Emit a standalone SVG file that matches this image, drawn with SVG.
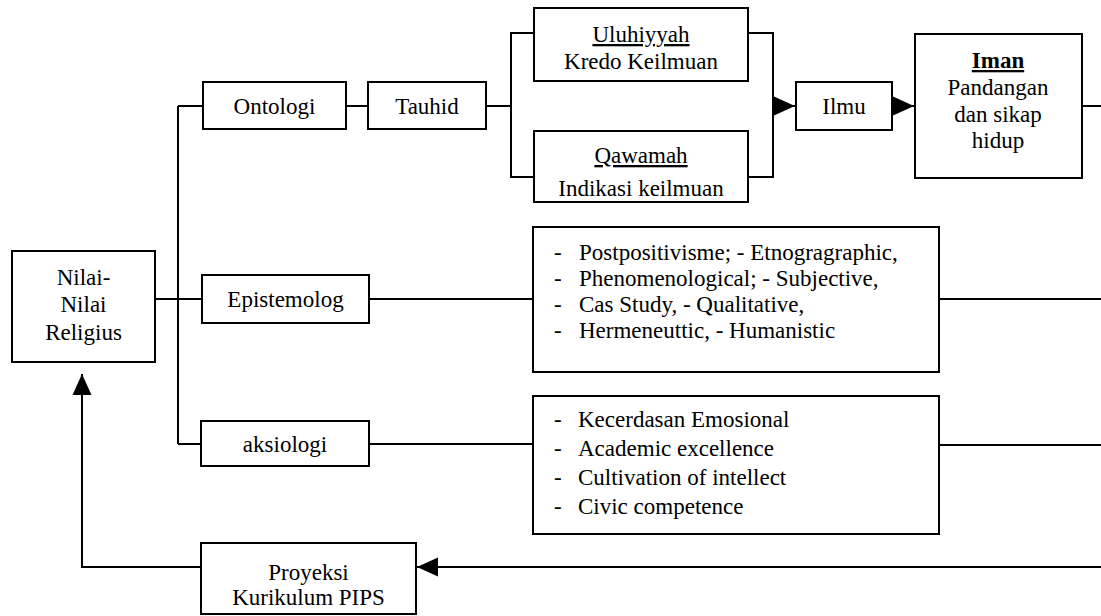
<svg xmlns="http://www.w3.org/2000/svg" width="1101" height="616" viewBox="0 0 1101 616" font-family="Liberation Serif, Times New Roman, DejaVu Serif, serif" font-size="23">
<style>
.box{fill:#fff;stroke:#000;stroke-width:2}
.ln{fill:none;stroke:#000;stroke-width:2}
text{font-family:'Liberation Serif','Times New Roman','DejaVu Serif',serif;font-size:23px;fill:#000}
.c{text-anchor:middle}
.u{text-decoration:underline}
.b{font-weight:bold}
</style>
<defs>
<marker id="ah" viewBox="0 0 21 20" refX="21" refY="10" markerWidth="21" markerHeight="20" markerUnits="userSpaceOnUse" orient="auto">
<path d="M0,0.5 L21,10 L0,19.5 Z" fill="#000"/>
</marker>
</defs>
<rect width="1101" height="616" fill="#fff"/>
<g id="connectors">
<path class="ln" d="M178,106 V444 M178,106 H203 M178,444 H201 M155,299 H202"/>
<path class="ln" d="M346,106 H368"/>
<path class="ln" d="M486,106 H511 M534,33 H511 V177 H534"/>
<path class="ln" d="M748,33 H773 V177 H748"/>
<path class="ln" d="M773,106 H795" marker-end="url(#ah)"/>
<path class="ln" d="M892,106 H914" marker-end="url(#ah)"/>
<path class="ln" d="M1082,106 H1101"/>
<path class="ln" d="M369,299 H533 M939,299 H1101"/>
<path class="ln" d="M369,444 H533 M939,445 H1101"/>
<path class="ln" d="M1101,567 H417" marker-end="url(#ah)"/>
<path class="ln" d="M201,567 H82 V374" marker-end="url(#ah)"/>
</g>
<g id="nilai">
<rect class="box" x="12" y="251" width="143" height="111"/>
<text class="c" x="83.5" y="285">Nilai-</text>
<text class="c" x="83.5" y="312">Nilai</text>
<text class="c" x="83.5" y="340">Religius</text>
</g>
<g id="ontologi">
<rect class="box" x="203" y="82" width="143" height="47"/>
<text class="c" x="274.5" y="114">Ontologi</text>
</g>
<g id="tauhid">
<rect class="box" x="368" y="82" width="118" height="47"/>
<text class="c" x="427" y="114">Tauhid</text>
</g>
<g id="uluhiyyah">
<rect class="box" x="534" y="8" width="214" height="73"/>
<text class="c u" x="641" y="42">Uluhiyyah</text>
<text class="c" x="641" y="69">Kredo Keilmuan</text>
</g>
<g id="qawamah">
<rect class="box" x="534" y="131" width="214" height="71"/>
<text class="c u" x="641" y="163">Qawamah</text>
<text class="c" x="641" y="196">Indikasi keilmuan</text>
</g>
<g id="ilmu">
<rect class="box" x="796" y="82" width="96" height="48"/>
<text class="c" x="844" y="114">Ilmu</text>
</g>
<g id="iman">
<rect class="box" x="915" y="34" width="167" height="144"/>
<text class="c u b" x="998" y="68">Iman</text>
<text class="c" x="998" y="95">Pandangan</text>
<text class="c" x="998" y="122">dan sikap</text>
<text class="c" x="998" y="148">hidup</text>
</g>
<g id="epistemolog">
<rect class="box" x="202" y="275" width="167" height="48"/>
<text class="c" x="285.5" y="307">Epistemolog</text>
</g>
<g id="epistemologi-list">
<rect class="box" x="533" y="227" width="406" height="145"/>
<text x="554" y="260">-</text><text x="579" y="260">Postpositivisme; - Etnogragraphic,</text>
<text x="554" y="286">-</text><text x="579" y="286">Phenomenological; - Subjective,</text>
<text x="554" y="312">-</text><text x="579" y="312">Cas Study, - Qualitative,</text>
<text x="554" y="338">-</text><text x="579" y="338">Hermeneuttic, - Humanistic</text>
</g>
<g id="aksiologi">
<rect class="box" x="201" y="421" width="168" height="45"/>
<text class="c" x="285" y="452">aksiologi</text>
</g>
<g id="aksiologi-list">
<rect class="box" x="533" y="396" width="406" height="138"/>
<text x="554" y="427">-</text><text x="578" y="427">Kecerdasan Emosional</text>
<text x="554" y="456">-</text><text x="578" y="456">Academic excellence</text>
<text x="554" y="485">-</text><text x="578" y="485">Cultivation of intellect</text>
<text x="554" y="514">-</text><text x="578" y="514">Civic competence</text>
</g>
<g id="proyeksi">
<rect class="box" x="201" y="543" width="215" height="71"/>
<text class="c" x="308.5" y="580">Proyeksi</text>
<text class="c" x="308.5" y="605">Kurikulum PIPS</text>
</g>
</svg>
